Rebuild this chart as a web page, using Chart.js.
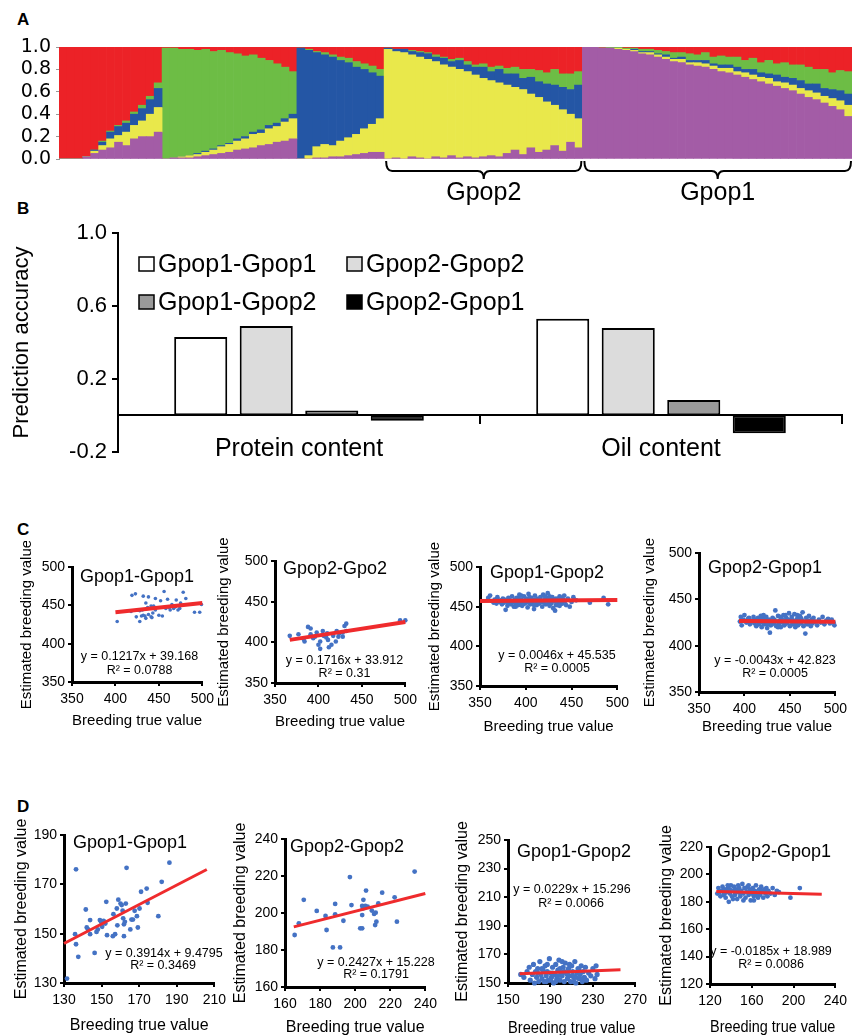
<!DOCTYPE html>
<html>
<head>
<meta charset="utf-8">
<script src="https://cdn.jsdelivr.net/npm/chart.js@4.4.1/dist/chart.umd.min.js"></script>
<style>
  html, body { margin: 0; padding: 0; background: #fff; }
  body { width: 854px; height: 1035px; position: relative; overflow: hidden; font-family: 'Liberation Sans', Arial, sans-serif; }
  canvas { position: absolute; }
  .tag { position: absolute; left: 17px; font-weight: bold; font-size: 17px; line-height: 17px; }
</style>
</head>
<body>
<div class="tag" style="top:11px">A</div>
<div class="tag" style="top:200px">B</div>
<div class="tag" style="top:521px">C</div>
<div class="tag" style="top:798px">D</div>

<canvas id="structure"></canvas>
<canvas id="accuracy"></canvas>
<canvas id="c1"></canvas>
<canvas id="c2"></canvas>
<canvas id="c3"></canvas>
<canvas id="c4"></canvas>
<canvas id="d1"></canvas>
<canvas id="d2"></canvas>
<canvas id="d3"></canvas>
<canvas id="d4"></canvas>

<script>
// ---------- A: ancestry proportions, 100 individuals (red | green | blue | yellow | purple groups)
const purpleQ = [
  0,0,0,.02,.05,.08,.10,.15,.12,.18,.20,.20,.24,
  0,.01,.01,.01,.02,.03,.04,.05,.06,.08,.09,.10,.12,.13,.15,.16,.18,
  0,0,.01,.01,.02,.02,.03,.04,.05,.06,.06,
  0,.01,0,.02,.01,0,.02,.01,.03,.01,.02,.01,.02,.03,.02,.05,.08,.04,.10,.06,.08,.12,.07,.15,.10,
  1,1,.99,.99,.98,.97,.96,.94,.93,.91,.89,.87,.86,.84,.83,.82,.80,.78,.77,.75,.73,.71,.69,.67,.65,.63,.61,.58,.55,.53,.50,.47,.44,.38
];
const yellowQ = [
  0,0,0,0,.02,.04,.08,.06,.12,.12,.14,.20,.22,
  0,0,.01,.02,.02,.03,.04,.06,.07,.08,.09,.12,.11,.14,.14,.17,.18,
  0,.03,.10,.12,.10,.14,.16,.18,.22,.25,.30,
  .98,.95,.95,.91,.90,.89,.85,.83,.79,.79,.76,.74,.70,.67,.66,.61,.56,.58,.48,.49,.43,.36,.37,.25,.26,
  0,0,0,0,.01,.01,.01,.01,.02,.02,.02,.02,.03,.02,.03,.03,.03,.03,.04,.03,.04,.04,.04,.05,.04,.05,.05,.05,.06,.06,.06,.07,.08,.10
];
const blueQ = [
  0,0,0,0,.01,.03,.06,.08,.08,.10,.11,.13,.17,
  0,0,0,0,.01,.01,.01,.01,.01,.02,.02,.02,.03,.03,.03,.03,.04,
  .99,.94,.84,.80,.79,.72,.67,.60,.53,.46,.38,
  .01,.02,.03,.03,.04,.05,.04,.06,.05,.08,.06,.07,.10,.08,.12,.10,.12,.10,.15,.14,.16,.18,.20,.22,.30,
  0,0,0,0,0,0,.01,.01,.01,.01,.02,.01,.02,.02,.02,.03,.02,.03,.03,.04,.03,.05,.04,.04,.06,.05,.06,.07,.06,.08,.07,.08,.09,.10
];
const greenQ = [
  0,0,0,0,0,.01,.01,.01,.02,.02,.03,.03,.05,
  .99,.98,.96,.95,.92,.91,.87,.85,.81,.76,.72,.69,.64,.58,.53,.46,.38,
  0,.01,.01,.02,.02,.03,.04,.05,.05,.06,.06,
  0,0,0,.01,.01,.01,.02,.01,.02,.02,.03,.02,.03,.04,.03,.05,.06,.08,.07,.10,.10,.14,.12,.14,.12,
  0,0,0,.01,.01,.01,.01,.02,.02,.03,.03,.05,.04,.06,.05,.07,.06,.08,.07,.09,.08,.10,.09,.12,.10,.13,.12,.14,.15,.13,.17,.15,.18,.20
];
const redQ = [
  1,1,1,.98,.92,.84,.75,.70,.66,.58,.52,.44,.32,
  .01,.01,.02,.02,.03,.02,.04,.03,.05,.06,.08,.07,.10,.12,.15,.18,.22,
  .01,.02,.04,.05,.07,.09,.10,.13,.15,.17,.20,
  .01,.02,.02,.03,.04,.05,.07,.09,.11,.10,.13,.16,.15,.18,.17,.19,.18,.20,.20,.21,.23,.20,.24,.24,.22,
  0,0,.01,0,0,.01,.01,.02,.02,.03,.04,.05,.05,.06,.07,.05,.09,.08,.09,.09,.12,.10,.14,.12,.15,.14,.16,.16,.18,.20,.20,.23,.21,.22
];
const groups = [
  { name: 'Gpop2', first: 41, last: 65 },
  { name: 'Gpop1', first: 66, last: 99 }
];

// ---------- B: prediction accuracy
const traits = ['Protein content', 'Oil content'];
const accG1G1 = [0.43, 0.53];
const accG2G2 = [0.49, 0.48];
const accG1G2 = [0.027, 0.084];
const accG2G1 = [-0.029, -0.098];

// ---------- C: protein content, [true, estimated]
const c1Pts = [[402,429],[419,463],[423,465],[428,429],[431,444],[432,462],[435,453],[438,461],[437,447],[430,436],[441,435],[443,440],[446,444],[452,456],[456,468],[460,458],[462,447],[465,451],[469,448],[472,444],[470,457],[478,467],[481,459],[491,441],[497,441],[499,451],[428,443],[434,436],[444,449],[450,437],[454,436],[458,446],[459,448],[463,444],[467,446],[474,446],[475,453],[438,438],[426,444],[424,435],[418,442],[441,449],[446,459],[432,437],[442,434],[435,433]];
const c1Fit = [[400,441],[500,453]];
const c2Pts = [[367,408],[377,410],[383,404],[384,401],[388,419],[391,417],[391,410],[394,405],[396,407],[398,412],[402,392],[402,401],[405,414],[406,408],[409,406],[410,411],[412,394],[415,397],[417,408],[420,401],[421,414],[424,411],[428,412],[430,420],[432,423],[432,414],[428,407],[423,407],[494,427],[500,427],[400,397],[411,403]];
const c2Fit = [[367,403],[500,425]];
const c3Pts = [[359,461],[361,464],[363,457],[365,455],[366,459],[368,454],[369,462],[371,456],[372,458],[374,453],[375,460],[376,455],[378,446],[379,457],[380,451],[381,461],[382,455],[383,458],[384,453],[385,463],[386,456],[387,450],[388,459],[389,454],[390,461],[391,457],[392,452],[393,465],[394,455],[395,459],[396,451],[397,457],[398,463],[399,454],[400,460],[401,456],[402,449],[403,466],[404,458],[405,453],[406,461],[407,455],[408,459],[409,447],[410,464],[411,456],[412,452],[413,460],[414,457],[415,454],[416,462],[417,458],[418,450],[419,465],[420,455],[421,459],[422,453],[423,461],[424,467],[425,456],[426,451],[427,459],[428,454],[429,462],[430,448],[431,457],[432,445],[433,460],[434,455],[435,452],[436,458],[437,463],[438,456],[439,461],[440,454],[441,459],[442,464],[443,457],[444,452],[446,460],[448,450],[450,456],[452,462],[455,458],[470,455],[485,461],[490,453],[377,459],[392,461],[397,453],[404,462],[411,459],[418,456],[426,463],[433,452],[380,456],[395,464],[409,452],[415,459],[421,463],[437,451],[403,455],[389,450]];
const c3Fit = [[350,457.3],[500,458.4]];
const c4Pts = [[395,426],[396,431],[397,422],[399,428],[400,433],[402,425],[404,429],[406,423],[408,427],[410,431],[411,424],[412,428],[413,421],[414,426],[415,430],[416,423],[417,427],[418,432],[419,420],[420,425],[421,429],[422,423],[423,427],[424,431],[425,419],[426,425],[427,428],[428,414],[429,422],[430,426],[431,430],[432,424],[433,428],[434,438],[435,421],[436,426],[437,432],[438,423],[439,427],[440,420],[441,429],[442,425],[443,433],[444,422],[445,427],[446,430],[447,424],[448,428],[449,435],[450,421],[451,426],[452,431],[453,423],[454,427],[455,434],[456,420],[457,425],[458,429],[459,422],[460,427],[461,432],[462,424],[463,428],[464,436],[465,421],[466,426],[467,413],[468,430],[469,423],[470,427],[471,432],[472,425],[473,421],[474,428],[475,424],[476,430],[478,426],[480,422],[482,428],[484,425],[486,431],[488,423],[490,427],[492,429],[494,424],[496,428],[498,425],[499,422],[418,428],[425,423],[433,425],[440,431],[447,426],[455,424],[462,430],[470,424],[410,426],[405,430],[430,423],[452,428],[437,420],[445,433],[458,433],[421,433]];
const c4Fit = [[394,426.6],[500,425.9]];

// ---------- D: oil content, [true, estimated]
const d1Pts = [[131.6,131.8],[136.4,176.1],[135.9,149.8],[136.4,145.7],[137.6,140.6],[141.6,159.8],[142.1,152.5],[142.8,151.7],[143.9,155.5],[143.9,149.8],[146.3,142.2],[147.3,150.7],[148,151.7],[149.1,155.5],[149.7,154.8],[150.3,152.8],[151.1,155.2],[152,154.1],[152.5,162.9],[152.9,149.4],[156,149],[156.3,157.9],[157.2,149.8],[158.1,160.2],[158.4,153.4],[158.9,163.8],[160.1,162.2],[160.7,161.6],[161.2,159.3],[161.5,156.2],[161.9,153.8],[161.9,149],[162.4,154.8],[162.9,162.2],[163.3,176.7],[165.3,151.7],[165.9,155.7],[166.7,155.7],[167.6,159.3],[168.8,157.1],[169.3,152.5],[170.2,160.2],[171,167],[174,168.3],[174.5,162.5],[180.2,157.1],[182,171],[186.1,178.8]];
const d1Fit = [[130,146],[206,176]];
const d2Pts = [[165.5,188.1],[167.9,194.4],[170.7,207.1],[178.1,201.1],[183.1,198.4],[183.7,190.8],[188.6,204.9],[188.6,199.3],[187.3,181.4],[191.4,181.4],[193.3,195.8],[197,219.4],[197.9,204.3],[202.9,191.7],[204,191.7],[204,203.8],[204,198.9],[204.4,202.5],[204.7,207.1],[206.2,212.1],[205.8,203.8],[207.1,203.4],[209.5,201.3],[210.8,199.5],[211.4,193.5],[212.1,195.3],[213.2,205.2],[215.4,211],[222.5,208.5],[223.8,195.3],[233.9,222.4],[211.7,200.2]];
const d2Fit = [[165,192.5],[240,210.5]];
const d3Pts = [[162,156],[165,154],[168,158],[170,161],[171,152],[173,156],[174,163],[175,150],[176,158],[177,154],[178,160],[179,151],[180,165],[181,156],[182,153],[183,159],[184,151],[185,162],[186,155],[187,158],[188,152],[189,167],[190,157],[191,154],[192,161],[193,150],[194,156],[195,163],[196,153],[197,159],[198,166],[199,152],[200,157],[201,155],[202,161],[203,151],[204,164],[205,157],[206,153],[207,160],[208,155],[209,151],[210,162],[211,158],[212,154],[213,165],[214,150],[215,157],[216,160],[217,153],[218,156],[219,162],[220,151],[221,158],[222,154],[223,161],[224,152],[226,157],[228,155],[230,160],[232,153],[234,156],[233,162],[182,160],[186,151],[192,157],[197,155],[203,158],[208,163],[212,151],[217,159],[190,152],[199,160],[206,156],[214,154],[178,157],[195,151],[211,155],[221,153],[187,163],[201,165]];
const d3Fit = [[161,156.4],[256,159.2]];
const d4Pts = [[127,186],[128,190],[130,184],[131,188],[132,191],[133,185],[134,189],[135,183],[136,187],[137,190],[138,180],[139,186],[140,192],[141,184],[142,188],[143,191],[144,185],[145,189],[146,182],[147,187],[148,190],[149,184],[150,188],[151,193],[152,186],[153,190],[154,183],[155,187],[156,191],[157,185],[158,189],[159,181],[160,186],[161,190],[162,184],[163,188],[164,192],[165,186],[166,183],[167,189],[168,185],[169,191],[170,187],[171,183],[172,189],[173,186],[174,190],[175,184],[176,188],[178,186],[180,190],[182,185],[184,188],[186,187],[197,183],[206,190],[129,187],[134,186],[139,189],[144,187],[149,186],[154,190],[159,188],[164,185],[169,188],[174,187],[142,182],[152,181],[162,181],[137,192],[147,192],[157,192]];
const d4Fit = [[126,187.6],[227,185.6]];

const FONT = "'Liberation Sans', Arial, sans-serif";
Chart.defaults.font.family = FONT;
Chart.defaults.color = '#000';
Chart.defaults.animation = false;
Chart.defaults.plugins.legend.display = false;
Chart.defaults.plugins.tooltip.enabled = false;

function place(cv, left, top, w, h) {
    cv.width = w;
    cv.height = h;
    cv.style.left = left + 'px';
    cv.style.top = top + 'px';
    cv.style.width = w + 'px';
    cv.style.height = h + 'px';
}

// free text (titles, equations) given in page coordinates
const notes = {
    id: 'notes',
    afterDraw(chart, args, opts) {
        const ctx = chart.ctx;
        (opts.items || []).forEach(it => {
            ctx.save();
            ctx.font = it.font;
            ctx.fillStyle = '#000';
            ctx.textAlign = it.align || 'left';
            ctx.textBaseline = 'middle';
            ctx.fillText(it.text, it.x - opts.ox, it.y - opts.oy);
            ctx.restore();
        });
    }
};

// ---------- panel A
const structCanvas = document.getElementById('structure');
place(structCanvas, 0, 0, 854, 210);

const brackets = {
    id: 'brackets',
    afterDraw(chart) {
        const { ctx, scales: { x } } = chart;
        const half = (x.getPixelForValue(1) - x.getPixelForValue(0)) / 2;
        ctx.save();
        ctx.strokeStyle = '#000';
        ctx.lineWidth = 2;
        ctx.fillStyle = '#000';
        ctx.font = '25px ' + FONT;
        ctx.textAlign = 'center';
        ctx.textBaseline = 'middle';
        groups.forEach(g => {
            const xs = x.getPixelForValue(g.first) - half + 2;
            const xe = x.getPixelForValue(g.last) + half - 1;
            const xm = (xs + xe) / 2;
            const yb = 171, r = 6;
            ctx.beginPath();
            ctx.moveTo(xs, 161);
            ctx.quadraticCurveTo(xs, yb, xs + r, yb);
            ctx.lineTo(xm - r, yb);
            ctx.quadraticCurveTo(xm, yb, xm, yb + 8);
            ctx.quadraticCurveTo(xm, yb, xm + r, yb);
            ctx.lineTo(xe - r, yb);
            ctx.quadraticCurveTo(xe, yb, xe, 161);
            ctx.stroke();
            ctx.fillText(g.name, xm, 193);
        });
        ctx.restore();
    }
};

new Chart(structCanvas, {
    type: 'bar',
    data: {
        labels: purpleQ.map((_, i) => 'ind' + (i + 1)),
        datasets: [
            { label: 'purple', data: purpleQ, backgroundColor: '#a35ca6' },
            { label: 'yellow', data: yellowQ, backgroundColor: '#e9e84b' },
            { label: 'blue', data: blueQ, backgroundColor: '#2456a5' },
            { label: 'green', data: greenQ, backgroundColor: '#6dbd45' },
            { label: 'red', data: redQ, backgroundColor: '#ec2227' }
        ]
    },
    options: {
        responsive: false,
        layout: { padding: { left: 0, top: 47, right: 2, bottom: 51 } },
        datasets: { bar: { barPercentage: 1, categoryPercentage: 1, borderWidth: 0 } },
        scales: {
            x: { display: false, stacked: true },
            y: {
                stacked: true, min: 0, max: 1,
                ticks: { stepSize: 0.2, autoSkip: false, callback: v => v.toFixed(1), font: { family: 'DejaVu Sans', size: 19, lineHeight: 1 }, padding: 5 },
                grid: { drawOnChartArea: false, tickLength: 3, color: '#999' },
                border: { color: '#999' },
                afterFit: s => { s.width = 59; }
            }
        }
    },
    plugins: [brackets]
});

// ---------- panel B
const accCanvas = document.getElementById('accuracy');
place(accCanvas, 0, 215, 854, 255);

const boxLegend = {
    id: 'boxLegend',
    afterDraw(chart, args, opts) {
        const ctx = chart.ctx;
        ctx.save();
        ctx.font = opts.font;
        ctx.textBaseline = 'middle';
        chart.data.datasets.forEach((ds, i) => {
            const [bx, cy] = opts.spots[i];
            ctx.fillStyle = ds.backgroundColor;
            ctx.fillRect(bx, cy - 7, 15, 14);
            ctx.strokeStyle = '#000';
            ctx.lineWidth = 1.5;
            ctx.strokeRect(bx, cy - 7, 15, 14);
            ctx.fillStyle = '#000';
            ctx.fillText(ds.label, bx + 19, cy + 1);
        });
        ctx.restore();
    }
};

new Chart(accCanvas, {
    type: 'bar',
    data: {
        labels: traits,
        datasets: [
            { label: 'Gpop1-Gpop1', data: accG1G1, backgroundColor: '#ffffff' },
            { label: 'Gpop2-Gpop2', data: accG2G2, backgroundColor: '#dcdcdc' },
            { label: 'Gpop1-Gpop2', data: accG1G2, backgroundColor: '#9a9a9a' },
            { label: 'Gpop2-Gpop1', data: accG2G1, backgroundColor: '#000000' }
        ]
    },
    options: {
        responsive: false,
        layout: { padding: { left: 9, top: 17, right: 12, bottom: 17 } },
        datasets: { bar: { categoryPercentage: 0.724, barPercentage: 0.81, borderColor: '#000', borderWidth: 2, borderSkipped: false } },
        plugins: {
            boxLegend: { font: '25px ' + FONT, spots: [[139, 49], [347, 49], [139, 87], [347, 87]] }
        },
        scales: {
            x: {
                position: { y: 0 },
                grid: { drawOnChartArea: false, tickLength: 8, color: '#000', lineWidth: 2 },
                border: { color: '#000', width: 2 },
                ticks: { font: { size: 25 }, padding: 11 }
            },
            y: {
                min: -0.2, max: 1.0,
                ticks: { stepSize: 0.4, callback: v => v.toFixed(1), font: { size: 22 }, padding: 5 },
                grid: { drawOnChartArea: false, tickLength: 6, color: '#000', lineWidth: 2 },
                border: { color: '#000', width: 2 },
                title: { display: true, text: 'Prediction accuracy', font: { size: 22, lineHeight: 1.2 }, padding: 0 },
                afterFit: s => { s.width = 109; }
            }
        }
    },
    plugins: [boxLegend]
});

// ---------- panels C and D
function scatterPanel(id, p) {
    const [L, T, R, B] = p.area;
    const tf = p.tf;
    const cl = Math.round(p.ytx - 0.6 * tf) - 2;
    const ct = T - 26;
    const xh = Math.round(p.xty + 0.6 * tf - B);
    const cb = B + xh + 3;
    const cr = R + 14;
    const yw = L - cl - 2;
    const cv = document.getElementById(id);
    place(cv, cl, ct, cr - cl, cb - ct);

    const small = '12.5px ' + FONT;
    new Chart(cv, {
        type: 'scatter',
        data: {
            datasets: [
                { type: 'line', data: p.fit, borderColor: '#ef2b2d', borderWidth: p.lw, pointRadius: 0, clip: 4 },
                { data: p.pts, backgroundColor: '#4472c4', borderWidth: 0, pointRadius: p.r, clip: 4 }
            ]
        },
        options: {
            responsive: false,
            layout: { padding: { left: 2, top: 26, right: 14, bottom: 3 } },
            plugins: {
                notes: {
                    ox: cl, oy: ct,
                    items: [
                        { text: p.title[0], x: p.title[1], y: p.title[2], font: '18px ' + FONT },
                        { text: p.eq[0], x: p.eq[1], y: p.eq[2], font: small, align: 'center' },
                        { text: p.r2[0], x: p.r2[1], y: p.r2[2], font: small, align: 'center' }
                    ]
                }
            },
            scales: {
                x: {
                    type: 'linear', min: p.x[0], max: p.x[1],
                    ticks: { stepSize: p.x[2], font: { size: 14 }, padding: 5, maxRotation: 0 },
                    grid: { drawOnChartArea: false, tickLength: 4, color: '#000', lineWidth: 2 },
                    border: { color: '#000', width: 3 },
                    title: { display: true, text: 'Breeding true value', font: { size: tf, lineHeight: 1.2 }, padding: 0 },
                    afterFit: s => { s.height = xh; }
                },
                y: {
                    min: p.y[0], max: p.y[1],
                    ticks: { stepSize: p.y[2], font: { size: 14 }, padding: 3 },
                    grid: { drawOnChartArea: false, tickLength: 4, color: '#000', lineWidth: 2 },
                    border: { color: '#000', width: 3 },
                    title: { display: true, text: 'Estimated breeding value', font: { size: tf, lineHeight: 1.2 }, padding: 0 },
                    afterFit: s => { s.width = yw; }
                }
            }
        },
        plugins: [notes]
    });
}

scatterPanel('c1', { area: [72, 567, 205, 682], ytx: 27, xty: 721, tf: 15, x: [350, 500, 50], y: [350, 500, 50],
    pts: c1Pts, fit: c1Fit, r: 1.8, lw: 4,
    title: ['Gpop1-Gpop1', 80, 577], eq: ['y = 0.1217x + 39.168', 139.5, 657], r2: ['R² = 0.0788', 139.5, 671] });
scatterPanel('c2', { area: [275, 561, 408, 683], ytx: 224, xty: 722, tf: 15, x: [350, 500, 50], y: [350, 500, 50],
    pts: c2Pts, fit: c2Fit, r: 2.3, lw: 4,
    title: ['Gpop2-Gpo2', 283, 569], eq: ['y = 0.1716x + 33.912', 344.5, 661], r2: ['R² = 0.31', 344.5, 674] });
scatterPanel('c3', { area: [480, 567, 620, 686], ytx: 435, xty: 727, tf: 15, x: [350, 500, 50], y: [350, 500, 50],
    pts: c3Pts, fit: c3Fit, r: 2.4, lw: 4,
    title: ['Gpop1-Gpop2', 490, 573], eq: ['y = 0.0046x + 45.535', 557, 656], r2: ['R² = 0.0005', 557, 668.5] });
scatterPanel('c4', { area: [699, 553, 838, 692], ytx: 650, xty: 727, tf: 15, x: [350, 500, 50], y: [350, 500, 50],
    pts: c4Pts, fit: c4Fit, r: 2.4, lw: 4,
    title: ['Gpop2-Gpop1', 708, 568], eq: ['y = -0.0043x + 42.823', 775, 660.5], r2: ['R² = 0.0005', 775, 673.5] });

scatterPanel('d1', { area: [64, 835, 217, 983], ytx: 22, xty: 1025, tf: 16, x: [130, 210, 20], y: [130, 190, 20],
    pts: d1Pts, fit: d1Fit, r: 2.4, lw: 3,
    title: ['Gpop1-Gpop1', 73, 843], eq: ['y = 0.3914x + 9.4795', 164, 954], r2: ['R² = 0.3469', 163, 966] });
scatterPanel('d2', { area: [285, 839, 428, 987], ytx: 241, xty: 1027, tf: 16, x: [160, 240, 20], y: [160, 240, 20],
    pts: d2Pts, fit: d2Fit, r: 2.4, lw: 3,
    title: ['Gpop2-Gpop2', 290, 847], eq: ['y = 0.2427x + 15.228', 376, 963], r2: ['R² = 0.1791', 376, 975] });
scatterPanel('d3', { area: [508, 840, 638, 983], ytx: 463, xty: 1028, tf: 16, x: [150, 270, 40], y: [150, 250, 20],
    pts: d3Pts, fit: d3Fit, r: 2.6, lw: 3,
    title: ['Gpop1-Gpop2', 517, 852], eq: ['y = 0.0229x + 15.296', 572, 890], r2: ['R² = 0.0066', 571, 904] });
scatterPanel('d4', { area: [710, 847, 838, 984], ytx: 667, xty: 1027, tf: 16, x: [120, 240, 40], y: [120, 220, 20],
    pts: d4Pts, fit: d4Fit, r: 2.4, lw: 3,
    title: ['Gpop2-Gpop1', 717, 852], eq: ['y = -0.0185x + 18.989', 771, 952], r2: ['R² = 0.0086', 771, 965] });
</script>
</body>
</html>
